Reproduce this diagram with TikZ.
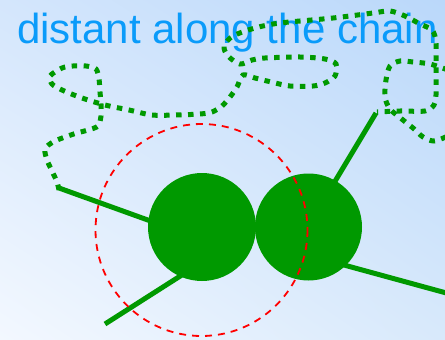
\documentclass[tikz,border=0pt]{standalone}
\usepackage{fontspec}
\newfontfamily\labelfont{Liberation Sans}
\usepackage{xcolor}
\usepackage{tikz}
\usetikzlibrary{calc, shadings}

\definecolor{chaingreen}{RGB}{0,153,0}
\definecolor{labelblue}{RGB}{10,155,250}
\definecolor{bgUL}{RGB}{212,230,252}
\definecolor{bgUR}{RGB}{186,216,250}
\definecolor{bgLL}{RGB}{243,248,255}
\definecolor{bgLR}{RGB}{216,233,251}

\tikzset{
  bond/.style={chaingreen, line width=5pt},
  farchain/.style={chaingreen, line width=5pt, dash pattern=on 5.5pt off 6.5pt},
  reach/.style={red, line width=1.8pt, dash pattern=on 7pt off 6pt}
}

\begin{document}
\begin{tikzpicture}[x=1pt, y=-1pt]
    % 1. Nền chuyển màu
    \useasboundingbox (0,0) rectangle (445,340);
    \clip (0,0) rectangle (445,340);
    \shade[upper left=bgUL, upper right=bgUR, lower left=bgLL, lower right=bgLR]
      (0,0) rectangle (445,340);

    % 2. Dòng chữ
    \node[anchor=base west, inner sep=0pt, labelblue, font=\labelfont\fontsize{42}{48}\selectfont]
      (title) at (17,43) {distant along the chain};

    % 3. Chuỗi xa (nét chấm)
    \draw[farchain] plot[smooth] coordinates {
      (59,190) (57,182) (52,171) (47,160) (45,149) (53,142) (65,137) (77,133)
      (88,130) (98,126) (101,116) (101,104) (100,92) (99,79) (96,69) (86,66)
      (73,66) (62,68) (50,76) (52,84) (62,90) (82,98) (105,105) (129,110)
      (152,115) (175,115) (200,114) (212,112) (222,106) (230,97) (237,87)
      (243,75) (255,78) (267,81) (290,86) (313,86) (325,83) (335,76) (336,64)
      (325,59) (300,57) (265,58) (252,60) (240,64) (228,56) (224,46) (233,36)
      (255,28) (280,23) (333,18) (373,13) (390,11) (405,16) (420,24) (432,30)
      (436,42) (436,67) (436,95) (434,105) (425,111) (400,111) (377,112)};
    \draw[farchain] plot[smooth] coordinates {
      (448,70) (430,64) (413,62) (400,61) (390,66) (386,80) (385,97) (390,109)
      (403,120) (413,128) (423,137) (434,141) (448,136)};

    % 4. Các liên kết liền
    \draw[bond] (59,188) -- (170,228);
    \draw[bond] (105,324) -- (196,266);
    \draw[bond] (376,113) -- (322,203);
    \draw[bond] (322,259) -- (450,294);

    % 5. Hai hạt
    \fill[chaingreen] (202,227) circle (54);
    \fill[chaingreen] (308.5,227) circle (53.5);

    % 6. Vùng lân cận
    \draw[reach] (201.5,230) circle (106);

\end{tikzpicture}
\end{document}
